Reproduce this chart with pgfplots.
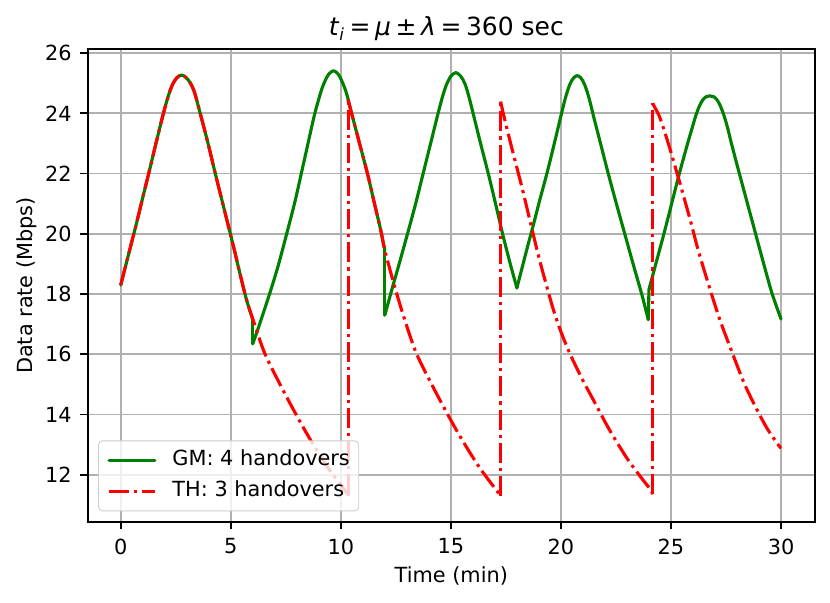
\documentclass[border=0pt]{standalone}
\usepackage{fontspec}
\setmainfont{DejaVu Sans}
\usepackage{pgfplots}
\pgfplotsset{compat=1.18}
\definecolor{mplgreen}{RGB}{0,128,0}
\definecolor{mplred}{RGB}{255,0,0}
\definecolor{gridgray}{RGB}{176,176,176}
\newcommand{\msp}{\hspace{2.2pt}}
\begin{document}
\begin{tikzpicture}
\begin{axis}[
  scale only axis,
  width=349.06pt, height=226.75pt,
  xmin=-1.5, xmax=31.54, ymin=10.443, ymax=26.125,
  xtick={0,5,10,15,20,25,30},
  ytick={12,14,16,18,20,22,24,26},
  /pgf/number format/assume math mode=true,
  tick label style={font=\fontsize{10}{12}\selectfont, inner sep=0pt},
  xticklabel style={anchor=north, yshift=-4.5pt},
  yticklabel style={anchor=east, xshift=-4pt},
  tick align=outside,
  major tick length=3.5pt,
  xtick pos=bottom, ytick pos=left,
  every tick/.style={black, line width=0.8pt},
  axis line style={black, line width=0.8pt},
  grid=major,
  major grid style={gridgray, line width=0.8pt},
  every axis x label/.style={at={(rel axis cs:0.5,0)}, anchor=base, yshift=-29.3pt, font=\fontsize{10}{12}\selectfont},
  every axis y label/.style={at={(rel axis cs:0,0.5)}, anchor=base, rotate=90, yshift=26.5pt, font=\fontsize{10}{12}\selectfont},
  every axis title/.style={at={(rel axis cs:0.5,1)}, anchor=base, yshift=6.4pt, xshift=-2.4pt, font=\fontsize{12}{14}\selectfont},
  title={\textit{t}\textsubscript{\textit{i}}\msp=\msp\textit{μ}\msp±\msp\textit{λ}\msp=\msp360 sec},
  xlabel={Time (min)},
  ylabel={Data rate (Mbps)},
  legend cell align=left,
  legend style={at={(rel axis cs:0.01432,0.02205)}, anchor=south west,
    draw=black!20, rounded corners=2pt, fill=white, fill opacity=0.8, text opacity=1,
    font=\fontsize{10}{12}\selectfont,
    inner xsep=4.3pt, inner ysep=1.9pt, column sep=7.7pt, row sep=0pt,
    nodes={inner xsep=0pt, inner ysep=2.45pt, text height=7.6pt, text depth=2.4pt}},
  legend image code/.code={\draw[#1] (0pt,0pt) -- (22pt,0pt);},
  gm/.style={mplgreen, line width=1.5pt, line join=round, line cap=round},
  th/.style={mplred, line width=1.5pt, line join=round, line cap=butt, dash pattern=on 9.6pt off 2.4pt on 1.5pt off 2.4pt},
]
% ---------------- GM ----------------
\addplot[gm, smooth] coordinates {
(0,18.3)(0.35,19.3)(0.71,20.33)(1.0,21.2)(1.32,22.15)(1.6,23.0)(1.93,23.97)(2.15,24.55)(2.35,24.95)(2.55,25.18)(2.76,25.27)(2.95,25.2)(3.15,25.02)(3.35,24.7)(3.6,24.03)(3.95,23.05)(4.28,22.05)(4.62,21.05)(4.96,20.06)(5.2,19.35)(5.41,18.7)(5.72,17.8)(6.0,17.15)
};
\addlegendentry{GM: 4 handovers}
\addplot[gm, forget plot] coordinates {(6.0,17.15)(6.0,16.35)};
\addplot[gm, smooth, forget plot] coordinates {
(6.0,16.35)(6.32,17.02)(6.77,18.02)(7.15,18.93)(7.53,19.97)(7.91,21.05)(8.21,22.02)(8.51,23.0)(8.82,24.0)(9.12,24.77)(9.3,25.1)(9.45,25.3)(9.65,25.41)(9.8,25.36)(9.95,25.22)(10.1,24.98)(10.26,24.66)(10.49,24.0)(10.85,23.0)(11.21,22.0)(11.53,21.0)(11.82,20.1)(12.0,19.45)
};
\addplot[gm, forget plot] coordinates {(12.0,19.45)(12.0,17.3)};
\addplot[gm, smooth, forget plot] coordinates {
(12.0,17.3)(12.3,18.1)(12.65,19.0)(13.03,20.0)(13.4,21.0)(13.74,22.0)(14.08,23.0)(14.42,24.0)(14.62,24.55)(14.8,24.95)(15.0,25.23)(15.23,25.35)(15.45,25.23)(15.64,24.98)(15.82,24.55)(16.01,24.0)(16.35,23.0)(16.7,22.0)(17.03,21.0)(17.35,20.0)(17.7,19.0)(18.0,18.2)
};
\addplot[gm, smooth, forget plot] coordinates {
(18.0,18.2)(18.44,19.45)(18.75,20.3)(19.05,21.15)(19.38,22.05)(19.7,23.0)(19.98,23.85)(20.2,24.5)(20.4,24.95)(20.57,25.17)(20.74,25.25)(20.91,25.17)(21.08,24.95)(21.28,24.5)(21.5,23.85)(21.8,23.0)(22.15,22.0)(22.52,21.0)(22.9,20.0)(23.28,19.0)(23.67,18.0)(23.97,17.15)
};
\addplot[gm, forget plot] coordinates {(23.97,17.15)(24.0,18.15)};
\addplot[gm, smooth, forget plot] coordinates {
(24.0,18.15)(24.33,19.05)(24.68,20.0)(25.02,20.97)(25.37,21.97)(25.75,22.98)(25.95,23.48)(26.14,23.95)(26.3,24.25)(26.45,24.45)(26.6,24.55)(26.77,24.58)(26.94,24.55)(27.09,24.45)(27.24,24.25)(27.4,23.95)(27.58,23.5)(27.73,23.05)(28.09,22.05)(28.44,21.1)(28.79,20.15)(29.17,19.12)(29.58,18.05)(30.0,17.17)
};
% ---------------- TH ----------------
\addplot[th, smooth] coordinates {
(0,18.3)(0.35,19.3)(0.71,20.33)(1.0,21.2)(1.32,22.15)(1.6,23.0)(1.93,23.97)(2.15,24.55)(2.35,24.95)(2.55,25.18)(2.76,25.27)(2.95,25.2)(3.15,25.02)(3.35,24.7)(3.6,24.03)(3.95,23.05)(4.28,22.05)(4.62,21.05)(4.96,20.06)(5.2,19.35)(5.41,18.7)(5.72,17.8)(6.02,17.13)(6.55,16.02)(7.31,14.9)(8.08,13.85)(8.71,13.05)(9.45,12.2)(10.27,11.4)(10.33,11.35)
};
\addlegendentry{TH: 3 handovers}
\addplot[th, forget plot] coordinates {(10.33,11.35)(10.33,24.45)};
\addplot[th, smooth, forget plot] coordinates {
(10.33,24.45)(10.49,24.0)(10.85,23.0)(11.21,22.0)(11.53,21.0)(11.82,20.1)(12.0,19.45)(12.45,18.24)(12.91,17.13)(13.44,16.02)(14.2,14.9)(14.97,13.85)(15.6,13.05)(16.34,12.2)(17.16,11.4)(17.26,11.3)
};
\addplot[th, forget plot] coordinates {(17.26,11.3)(17.26,24.39)};
\addplot[th, smooth, forget plot] coordinates {
(17.26,24.39)(17.45,23.78)(17.83,22.67)(18.21,21.6)(18.59,20.45)(18.97,19.3)(19.3,18.4)(19.65,17.5)(20.0,16.75)(20.41,16.02)(20.95,15.2)(21.5,14.45)(22.2,13.5)(23.0,12.55)(23.6,11.95)(24.08,11.5)(24.17,11.35)
};
\addplot[th, forget plot] coordinates {(24.17,11.35)(24.17,24.33)};
\addplot[th, smooth, forget plot] coordinates {
(24.17,24.33)(24.3,24.15)(24.5,23.85)(24.9,22.95)(25.41,21.67)(25.86,20.5)(26.24,19.45)(26.74,18.24)(27.23,17.13)(27.8,16.02)(28.35,15.0)(28.95,14.1)(29.4,13.5)(29.9,12.97)(30.0,12.88)
};
\end{axis}
\path ([xshift=-42.1pt,yshift=-39.0pt]current axis.south west) rectangle ([xshift=7.25pt,yshift=23.66pt]current axis.north east);
\end{tikzpicture}
\end{document}
